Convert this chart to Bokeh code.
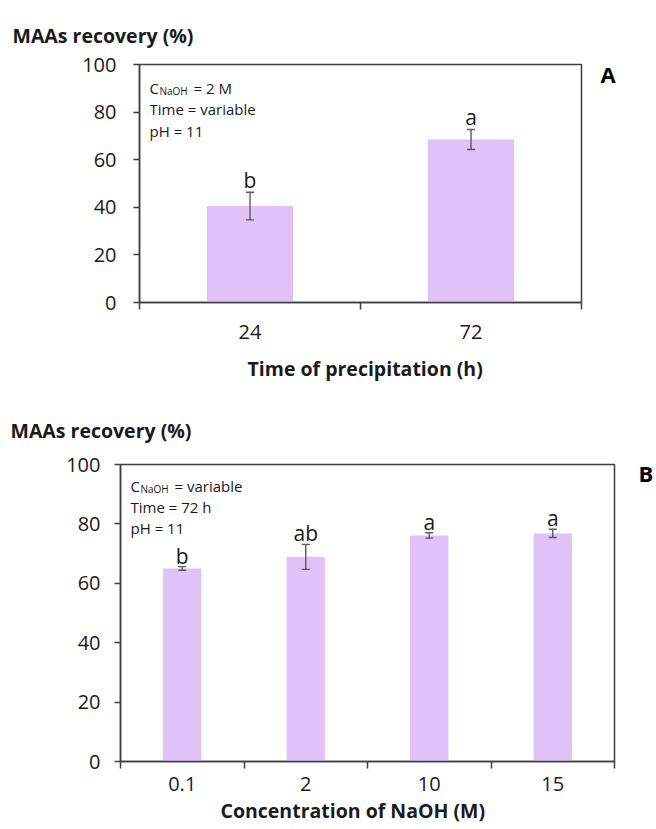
from bokeh.plotting import figure
from bokeh.models import (ColumnDataSource, FixedTicker, Whisker, TeeHead, Label, Range1d,
                          LinearAxis, Title)
from bokeh.embed import file_html
from bokeh.resources import INLINE
from bokeh.core.properties import value

# Panel A: MAAs recovery against precipitation time (C_NaOH = 2 M, pH 11)
time_labels = ["24", "72"]
time_recovery = [40.5, 68.5]
time_sd = [5.8, 4.2]
time_letters = ["b", "a"]

# Panel B: MAAs recovery against NaOH concentration (72 h, pH 11)
naoh_labels = ["0.1", "2", "10", "15"]
naoh_recovery = [65.0, 68.9, 76.1, 76.8]
naoh_sd = [0.6, 4.2, 0.9, 1.4]
naoh_letters = ["b", "ab", "a", "a"]

y_ticks = [0, 20, 40, 60, 80, 100]

FONT = "Open Sans"
AXIS_COLOR = "#3f3f3f"
BAR_COLOR = "#e0c1f8"
ERR_COLOR = "#5a5a5a"
TEXT_COLOR = "#1a1a1a"


def label(p, x, y, text, size):
    p.add_layout(Label(x=x, y=y, x_units="screen", y_units="screen", text=text,
                       text_font=FONT, text_font_size=size, text_color=TEXT_COLOR,
                       text_align="left", text_baseline="alphabetic"))


def title(p, text, side, offset, standoff, valign):
    p.add_layout(Title(text=text, align="left", offset=offset, standoff=standoff,
                       vertical_align=valign, text_font=FONT, text_font_size="19.5px",
                       text_font_style="bold", text_color=TEXT_COLOR), side)


def panel(cats, vals, sds, letters, bar_width, width, height, borders,
          x_standoff, y_standoff, letter_gap, tag, tag_y, tag_standoff):
    n = len(cats)
    src = ColumnDataSource(dict(
        x=list(range(n)), top=vals,
        upper=[v + s for v, s in zip(vals, sds)],
        lower=[v - s for v, s in zip(vals, sds)],
        letter=letters,
    ))
    left, right, top, bottom = borders
    p = figure(width=width, height=height, output_backend="svg", toolbar_location=None,
               x_range=Range1d(-0.5, n - 0.5), y_range=Range1d(0, 100),
               min_border_left=left, min_border_right=right,
               min_border_top=top, min_border_bottom=bottom)
    p.xgrid.visible = False
    p.ygrid.visible = False
    p.outline_line_color = AXIS_COLOR
    p.outline_line_width = 1.5
    p.outline_line_alpha = 1.0
    p.background_fill_color = "white"
    p.border_fill_color = "white"

    p.vbar(x="x", top="top", bottom=0, width=bar_width, source=src,
           fill_color=BAR_COLOR, line_color=None)

    p.add_layout(Whisker(base="x", upper="upper", lower="lower", source=src,
                         line_color=ERR_COLOR, line_width=1.4, level="overlay",
                         upper_head=TeeHead(size=8, line_color=ERR_COLOR, line_width=1.4),
                         lower_head=TeeHead(size=8, line_color=ERR_COLOR, line_width=1.4)))

    p.text(x="x", y="upper", text="letter", source=src, y_offset=-letter_gap,
           text_align="center", text_baseline="alphabetic",
           text_font=value(FONT), text_font_size="21px", text_color=TEXT_COLOR)

    xa = p.xaxis[0]
    xa.ticker = FixedTicker(ticks=list(range(n)), minor_ticks=[i - 0.5 for i in range(n + 1)])
    xa.major_label_overrides = {i: c for i, c in enumerate(cats)}
    xa.major_tick_out = 0
    xa.major_tick_in = 0
    xa.minor_tick_out = 7
    xa.minor_tick_in = 0
    xa.minor_tick_line_color = AXIS_COLOR
    xa.minor_tick_line_width = 1.5
    xa.axis_line_color = AXIS_COLOR
    xa.axis_line_width = 1.5
    xa.major_label_standoff = x_standoff
    xa.major_label_text_font = FONT
    xa.major_label_text_font_size = "20px"
    xa.major_label_text_color = TEXT_COLOR

    ya = p.yaxis[0]
    ya.ticker = FixedTicker(ticks=y_ticks, minor_ticks=[])
    ya.major_tick_out = 6
    ya.major_tick_in = 0
    ya.major_tick_line_color = AXIS_COLOR
    ya.major_tick_line_width = 1.5
    ya.axis_line_color = AXIS_COLOR
    ya.axis_line_width = 1.5
    ya.major_label_standoff = y_standoff
    ya.major_label_text_font = FONT
    ya.major_label_text_font_size = "20px"
    ya.major_label_text_color = TEXT_COLOR

    # panel letter, carried by a bare axis on the right side
    p.extra_y_ranges = {"tag": Range1d(0, 100)}
    tag_axis = LinearAxis(y_range_name="tag", ticker=FixedTicker(ticks=[tag_y], minor_ticks=[]),
                          major_label_overrides={tag_y: tag},
                          axis_line_color=None, major_tick_line_color=None,
                          minor_tick_line_color=None, major_tick_out=0, major_tick_in=0,
                          major_label_standoff=tag_standoff,
                          major_label_text_font=FONT, major_label_text_font_size="22px",
                          major_label_text_font_style="bold",
                          major_label_text_color="black")
    p.add_layout(tag_axis, "right")
    return p


# ---- Panel A ----
pa = panel(time_labels, time_recovery, time_sd, time_letters, 0.39,
           656, 395, (139, 75, 64, 93), 15, 17, 12, "A", 96, 19)
fa = 238  # frame height in px
label(pa, 10, fa - 23, "C", "15px")
label(pa, 20, fa - 26, "NaOH", "10px")
label(pa, 54, fa - 23, "= 2 M", "15px")
label(pa, 10, fa - 44, "Time = variable", "15px")
label(pa, 10, fa - 66, "pH = 11", "15px")
title(pa, "MAAs recovery (%)", "above", -127, 32, "bottom")
title(pa, "Time of precipitation (h)", "below", 108, 23, "bottom")

# ---- Panel B ----
pb = panel(naoh_labels, naoh_recovery, naoh_sd, naoh_letters, 0.31,
           656, 434, (120, 40, 69, 67), 8, 14, 11, "B", 97, 24)
fb = 297
label(pb, 10, fb - 21, "C", "15px")
label(pb, 20, fb - 24, "NaOH", "10px")
label(pb, 54, fb - 21, "= variable", "15px")
label(pb, 10, fb - 42, "Time = 72 h", "15px")
label(pb, 10, fb - 63, "pH = 11", "15px")
title(pb, "MAAs recovery (%)", "above", -110, 37, "top")
title(pb, "Concentration of NaOH (M)", "below", 100, 7, "top")

# two independent roots, stacked, so each panel keeps its own frame geometry
open("out.html", "w").write(file_html([pa, pb], INLINE))
